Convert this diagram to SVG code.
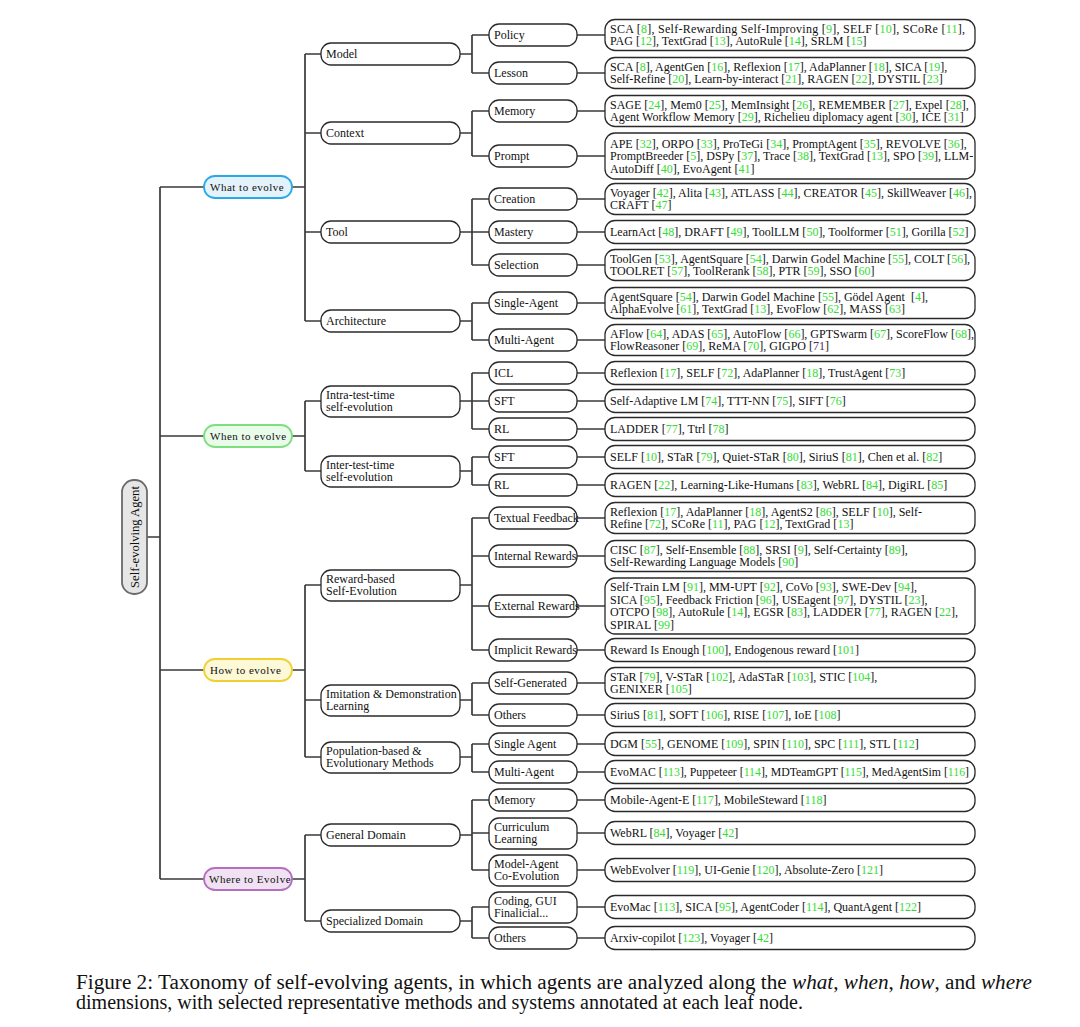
<svg xmlns="http://www.w3.org/2000/svg" width="1080" height="1027" viewBox="0 0 1080 1027">
<style>
.ln{stroke:#3a3a3a;stroke-width:1.7;fill:none}
.b{fill:#fff;stroke:#2a2a2a;stroke-width:1.3}
.t{font-family:"Liberation Serif",serif;font-size:12px;fill:#111}
.t1{font-family:"Liberation Serif",serif;font-size:11px;fill:#111;letter-spacing:0.5px}
.c{fill:#33dd33}
.p{fill:#4b2a6b}
.cap{font-family:"Liberation Serif",serif;font-size:20.5px;fill:#111}
</style>
<rect width="1080" height="1027" fill="#fff"/>
<g id="connectors">
<path class="ln" d="M147 537H160M160 187V879M160 187H204M160 436H204M160 670H204M160 879H204"/>
<path class="ln" d="M292 187H305M292 436H305M292 670H305M292 879H305"/>
<path class="ln" d="M305 54V321M305 54H321M305 133H321M305 232H321M305 321H321"/>
<path class="ln" d="M305 401V471M305 401H321M305 471H321"/>
<path class="ln" d="M305 585V757M305 585H321M305 700H321M305 757H321"/>
<path class="ln" d="M305 835V921M305 835H321M305 921H321"/>
<path class="ln" d="M460 54H472M472 35V73M472 35H489M472 73H489"/>
<path class="ln" d="M460 133H472M472 111V156M472 111H489M472 156H489"/>
<path class="ln" d="M460 232H472M472 199V265M472 199H489M472 232H489M472 265H489"/>
<path class="ln" d="M460 321H472M472 303V340M472 303H489M472 340H489"/>
<path class="ln" d="M460 401H472M472 373V429M472 373H489M472 401H489M472 429H489"/>
<path class="ln" d="M460 471H472M472 457V485M472 457H489M472 485H489"/>
<path class="ln" d="M460 585H472M472 518V650M472 518H489M472 556H489M472 606H489M472 650H489"/>
<path class="ln" d="M460 700H472M472 683V715M472 683H489M472 715H489"/>
<path class="ln" d="M460 757H472M472 744V772M472 744H489M472 772H489"/>
<path class="ln" d="M460 835H472M472 800V870M472 800H489M472 833H489M472 870H489"/>
<path class="ln" d="M460 921H472M472 907V938M472 907H489M472 938H489"/>
<path class="ln" d="M577 35H605M577 73H605M577 111H605M577 156H605M577 199H605M577 232H605M577 265H605M577 303H605M577 340H605"/>
<path class="ln" d="M577 373H605M577 401H605M577 429H605M577 457H605M577 485H605"/>
<path class="ln" d="M577 518H605M577 556H605M577 606H605M577 650H605M577 683H605M577 715H605M577 744H605M577 772H605"/>
<path class="ln" d="M577 800H605M577 833H605M577 870H605M577 907H605M577 938H605"/>
</g>
<g id="root"><rect x="122" y="480" width="25" height="114" rx="12" fill="#e6e6e6" stroke="#6a6a6a" stroke-width="1.8"/><text class="t" style="font-size:12.6px" text-anchor="middle" transform="translate(139 537) rotate(-90)">Self-evolving Agent</text></g>
<g id="what"><rect x="204" y="176" width="88" height="22" rx="11" fill="#e4f3fb" stroke="#2aa9e6" stroke-width="1.8"/><text class="t1" x="210" y="191">What to evolve</text></g>
<g id="when"><rect x="204" y="425" width="88" height="22" rx="11" fill="#e9fbe9" stroke="#7ddf7d" stroke-width="1.8"/><text class="t1" x="210" y="440">When to evolve</text></g>
<g id="how"><rect x="204" y="659" width="88" height="22" rx="11" fill="#fdf8d6" stroke="#efd030" stroke-width="1.8"/><text class="t1" x="210" y="674">How to evolve</text></g>
<g id="where"><rect x="204" y="868" width="88" height="22" rx="11" fill="#f1e2f3" stroke="#b46fbe" stroke-width="1.8"/><text class="t1" x="209" y="883">Where to Evolve</text></g>

<g id="model"><rect class="b" x="321" y="43" width="139" height="22" rx="10"/><text class="t" x="326" y="58">Model</text></g>
<g id="context"><rect class="b" x="321" y="122" width="139" height="22" rx="10"/><text class="t" x="326" y="137">Context</text></g>
<g id="tool"><rect class="b" x="321" y="221" width="139" height="22" rx="10"/><text class="t" x="326" y="236">Tool</text></g>
<g id="architecture"><rect class="b" x="321" y="310" width="139" height="22" rx="10"/><text class="t" x="326" y="325">Architecture</text></g>
<g id="intra"><rect class="b" x="321" y="386" width="139" height="31" rx="10"/><text class="t"><tspan x="326" y="399">Intra-test-time</tspan><tspan x="326" y="411">self-evolution</tspan></text></g>
<g id="inter"><rect class="b" x="321" y="456" width="139" height="31" rx="10"/><text class="t"><tspan x="326" y="469">Inter-test-time</tspan><tspan x="326" y="481">self-evolution</tspan></text></g>
<g id="reward"><rect class="b" x="321" y="570" width="139" height="31" rx="10"/><text class="t"><tspan x="326" y="583">Reward-based</tspan><tspan x="326" y="595">Self-Evolution</tspan></text></g>
<g id="imitation"><rect class="b" x="321" y="685" width="139" height="31" rx="10"/><text class="t"><tspan x="326" y="698">Imitation &amp; Demonstration</tspan><tspan x="326" y="710">Learning</tspan></text></g>
<g id="population"><rect class="b" x="321" y="742" width="139" height="31" rx="10"/><text class="t"><tspan x="326" y="755">Population-based &amp;</tspan><tspan x="326" y="767">Evolutionary Methods</tspan></text></g>
<g id="general"><rect class="b" x="321" y="824" width="139" height="22" rx="10"/><text class="t" x="326" y="839">General Domain</text></g>
<g id="specialized"><rect class="b" x="321" y="910" width="139" height="22" rx="10"/><text class="t" x="326" y="925">Specialized Domain</text></g>

<g id="policy"><rect class="b" x="489" y="24" width="88" height="22" rx="10"/><text class="t" x="494" y="39">Policy</text></g>
<g id="lesson"><rect class="b" x="489" y="62" width="88" height="22" rx="10"/><text class="t" x="494" y="77">Lesson</text></g>
<g id="memory"><rect class="b" x="489" y="100" width="88" height="22" rx="10"/><text class="t" x="494" y="115">Memory</text></g>
<g id="prompt"><rect class="b" x="489" y="145" width="88" height="22" rx="10"/><text class="t" x="494" y="160">Prompt</text></g>
<g id="creation"><rect class="b" x="489" y="188" width="88" height="22" rx="10"/><text class="t" x="494" y="203">Creation</text></g>
<g id="mastery"><rect class="b" x="489" y="221" width="88" height="22" rx="10"/><text class="t" x="494" y="236">Mastery</text></g>
<g id="selection"><rect class="b" x="489" y="254" width="88" height="22" rx="10"/><text class="t" x="494" y="269">Selection</text></g>
<g id="single-agent"><rect class="b" x="489" y="292" width="88" height="22" rx="10"/><text class="t" x="494" y="307">Single-Agent</text></g>
<g id="multi-agent"><rect class="b" x="489" y="329" width="88" height="22" rx="10"/><text class="t" x="494" y="344">Multi-Agent</text></g>
<g id="icl"><rect class="b" x="489" y="362" width="88" height="22" rx="10"/><text class="t" x="494" y="377">ICL</text></g>
<g id="sft1"><rect class="b" x="489" y="390" width="88" height="22" rx="10"/><text class="t" x="494" y="405">SFT</text></g>
<g id="rl1"><rect class="b" x="489" y="418" width="88" height="22" rx="10"/><text class="t" x="494" y="433">RL</text></g>
<g id="sft2"><rect class="b" x="489" y="446" width="88" height="22" rx="10"/><text class="t" x="494" y="461">SFT</text></g>
<g id="rl2"><rect class="b" x="489" y="474" width="88" height="22" rx="10"/><text class="t" x="494" y="489">RL</text></g>
<g id="textual"><rect class="b" x="489" y="507" width="88" height="22" rx="10"/><text class="t" x="494" y="522">Textual Feedback</text></g>
<g id="internal"><rect class="b" x="489" y="545" width="88" height="22" rx="10"/><text class="t" x="494" y="560">Internal Rewards</text></g>
<g id="external"><rect class="b" x="489" y="595" width="88" height="22" rx="10"/><text class="t" x="494" y="610">External Rewards</text></g>
<g id="implicit"><rect class="b" x="489" y="639" width="88" height="22" rx="10"/><text class="t" x="494" y="654">Implicit Rewards</text></g>
<g id="self-generated"><rect class="b" x="489" y="672" width="88" height="22" rx="10"/><text class="t" x="494" y="687">Self-Generated</text></g>
<g id="others1"><rect class="b" x="489" y="704" width="88" height="22" rx="10"/><text class="t" x="494" y="719">Others</text></g>
<g id="single-agent2"><rect class="b" x="489" y="733" width="88" height="22" rx="10"/><text class="t" x="494" y="748">Single Agent</text></g>
<g id="multi-agent2"><rect class="b" x="489" y="761" width="88" height="22" rx="10"/><text class="t" x="494" y="776">Multi-Agent</text></g>
<g id="memory2"><rect class="b" x="489" y="789" width="88" height="22" rx="10"/><text class="t" x="494" y="804">Memory</text></g>
<g id="curriculum"><rect class="b" x="489" y="818" width="88" height="31" rx="10"/><text class="t"><tspan x="494" y="831">Curriculum</tspan><tspan x="494" y="843">Learning</tspan></text></g>
<g id="model-agent"><rect class="b" x="489" y="855" width="88" height="31" rx="10"/><text class="t"><tspan x="494" y="868">Model-Agent</tspan><tspan x="494" y="880">Co-Evolution</tspan></text></g>
<g id="coding"><rect class="b" x="489" y="892" width="88" height="31" rx="10"/><text class="t"><tspan x="494" y="905">Coding, GUI</tspan><tspan x="494" y="917">Finalicial...</tspan></text></g>
<g id="others2"><rect class="b" x="489" y="927" width="88" height="22" rx="10"/><text class="t" x="494" y="942">Others</text></g>

<g id="leaf-policy"><rect class="b" x="605" y="19.5" width="370" height="31" rx="10"/><text class="t"><tspan x="610" y="32.8" textLength="355" lengthAdjust="spacing">SCA [<tspan class="c">8</tspan>], Self-Rewarding Self-Improving [<tspan class="c">9</tspan>], SELF [<tspan class="c">10</tspan>], SCoRe [<tspan class="c">11</tspan>],</tspan><tspan x="610" y="45.3">PAG [<tspan class="c">12</tspan>], TextGrad [<tspan class="c">13</tspan>], AutoRule [<tspan class="c">14</tspan>], SRLM [<tspan class="c">15</tspan>]</tspan></text></g>
<g id="leaf-lesson"><rect class="b" x="605" y="57.5" width="370" height="31" rx="10"/><text class="t"><tspan x="610" y="70.8">SCA [<tspan class="c">8</tspan>], AgentGen [<tspan class="c">16</tspan>], Reflexion [<tspan class="c">17</tspan>], AdaPlanner [<tspan class="c">18</tspan>], SICA [<tspan class="c">19</tspan>],</tspan><tspan x="610" y="83.3">Self-Refine [<tspan class="c">20</tspan>], Learn-by-interact [<tspan class="c">21</tspan>], RAGEN [<tspan class="c">22</tspan>], DYSTIL [<tspan class="c">23</tspan>]</tspan></text></g>
<g id="leaf-memory"><rect class="b" x="605" y="95.5" width="370" height="31" rx="10"/><text class="t"><tspan x="610" y="108.8">SAGE [<tspan class="c">24</tspan>], Mem0 [<tspan class="c">25</tspan>], MemInsight [<tspan class="c">26</tspan>], REMEMBER [<tspan class="c">27</tspan>], Expel [<tspan class="c">28</tspan>],</tspan><tspan x="610" y="121.3">Agent Workflow Memory [<tspan class="c">29</tspan>], Richelieu diplomacy agent [<tspan class="c">30</tspan>], ICE [<tspan class="c">31</tspan>]</tspan></text></g>
<g id="leaf-prompt"><rect class="b" x="605" y="133" width="370" height="46" rx="10"/><text class="t"><tspan x="610" y="147.5">APE [<tspan class="c">32</tspan>], ORPO [<tspan class="c">33</tspan>], ProTeGi [<tspan class="c">34</tspan>], PromptAgent [<tspan class="c">35</tspan>], REVOLVE [<tspan class="c">36</tspan>],</tspan><tspan x="610" y="160">PromptBreeder [<tspan class="c">5</tspan>], DSPy [<tspan class="c">37</tspan>], Trace [<tspan class="c">38</tspan>], TextGrad [<tspan class="c">13</tspan>], SPO [<tspan class="c">39</tspan>], LLM-</tspan><tspan x="610" y="172.5">AutoDiff [<tspan class="c">40</tspan>], EvoAgent [<tspan class="c">41</tspan>]</tspan></text></g>
<g id="leaf-creation"><rect class="b" x="605" y="183.5" width="370" height="31" rx="10"/><text class="t"><tspan x="610" y="196.8">Voyager [<tspan class="c">42</tspan>], Alita [<tspan class="c">43</tspan>], ATLASS [<tspan class="c">44</tspan>], CREATOR [<tspan class="c">45</tspan>], SkillWeaver [<tspan class="c">46</tspan>],</tspan><tspan x="610" y="209.3">CRAFT [<tspan class="c">47</tspan>]</tspan></text></g>
<g id="leaf-mastery"><rect class="b" x="605" y="220.5" width="370" height="23" rx="10"/><text class="t" x="610" y="236">LearnAct [<tspan class="c">48</tspan>], DRAFT [<tspan class="c">49</tspan>], ToolLLM [<tspan class="c">50</tspan>], Toolformer [<tspan class="c">51</tspan>], Gorilla [<tspan class="c">52</tspan>]</text></g>
<g id="leaf-selection"><rect class="b" x="605" y="249.5" width="370" height="31" rx="10"/><text class="t"><tspan x="610" y="262.8">ToolGen [<tspan class="c">53</tspan>], AgentSquare [<tspan class="c">54</tspan>], Darwin Godel Machine [<tspan class="c">55</tspan>], COLT [<tspan class="c">56</tspan>],</tspan><tspan x="610" y="275.3">TOOLRET [<tspan class="c">57</tspan>], ToolRerank [<tspan class="c">58</tspan>], PTR [<tspan class="c">59</tspan>], SSO [<tspan class="c">60</tspan>]</tspan></text></g>
<g id="leaf-single-agent"><rect class="b" x="605" y="287.5" width="370" height="31" rx="10"/><text class="t"><tspan x="610" y="300.8">AgentSquare [<tspan class="c">54</tspan>], Darwin Godel Machine [<tspan class="c">55</tspan>], Gödel Agent&#160; [<tspan class="c">4</tspan>],</tspan><tspan x="610" y="313.3">AlphaEvolve [<tspan class="c">61</tspan>], TextGrad [<tspan class="c">13</tspan>], EvoFlow [<tspan class="c">62</tspan>], MASS [<tspan class="c">63</tspan>]</tspan></text></g>
<g id="leaf-multi-agent"><rect class="b" x="605" y="324.5" width="370" height="31" rx="10"/><text class="t"><tspan x="610" y="337.8">AFlow [<tspan class="c">64</tspan>], ADAS [<tspan class="c">65</tspan>], AutoFlow [<tspan class="c">66</tspan>], GPTSwarm [<tspan class="c">67</tspan>], ScoreFlow [<tspan class="c">68</tspan>],</tspan><tspan x="610" y="350.3">FlowReasoner [<tspan class="c">69</tspan>], ReMA [<tspan class="c">70</tspan>], GIGPO [<tspan class="p">71</tspan>]</tspan></text></g>
<g id="leaf-icl"><rect class="b" x="605" y="361.5" width="370" height="23" rx="10"/><text class="t" x="610" y="377">Reflexion [<tspan class="c">17</tspan>], SELF [<tspan class="c">72</tspan>], AdaPlanner [<tspan class="c">18</tspan>], TrustAgent [<tspan class="c">73</tspan>]</text></g>
<g id="leaf-sft1"><rect class="b" x="605" y="389.5" width="370" height="23" rx="10"/><text class="t" x="610" y="405">Self-Adaptive LM [<tspan class="c">74</tspan>], TTT-NN [<tspan class="c">75</tspan>], SIFT [<tspan class="c">76</tspan>]</text></g>
<g id="leaf-rl1"><rect class="b" x="605" y="417.5" width="370" height="23" rx="10"/><text class="t" x="610" y="433">LADDER [<tspan class="c">77</tspan>], Ttrl [<tspan class="c">78</tspan>]</text></g>
<g id="leaf-sft2"><rect class="b" x="605" y="445.5" width="370" height="23" rx="10"/><text class="t" x="610" y="461">SELF [<tspan class="c">10</tspan>], STaR [<tspan class="c">79</tspan>], Quiet-STaR [<tspan class="c">80</tspan>], SiriuS [<tspan class="c">81</tspan>], Chen et al. [<tspan class="c">82</tspan>]</text></g>
<g id="leaf-rl2"><rect class="b" x="605" y="473.5" width="370" height="23" rx="10"/><text class="t" x="610" y="489">RAGEN [<tspan class="c">22</tspan>], Learning-Like-Humans [<tspan class="c">83</tspan>], WebRL [<tspan class="c">84</tspan>], DigiRL [<tspan class="c">85</tspan>]</text></g>
<g id="leaf-textual"><rect class="b" x="605" y="502.5" width="370" height="31" rx="10"/><text class="t"><tspan x="610" y="515.8">Reflexion [<tspan class="c">17</tspan>], AdaPlanner [<tspan class="c">18</tspan>], AgentS2 [<tspan class="c">86</tspan>], SELF [<tspan class="c">10</tspan>], Self-</tspan><tspan x="610" y="528.3">Refine [<tspan class="c">72</tspan>], SCoRe [<tspan class="c">11</tspan>], PAG [<tspan class="c">12</tspan>], TextGrad [<tspan class="c">13</tspan>]</tspan></text></g>
<g id="leaf-internal"><rect class="b" x="605" y="540.5" width="370" height="31" rx="10"/><text class="t"><tspan x="610" y="553.8">CISC [<tspan class="c">87</tspan>], Self-Ensemble [<tspan class="c">88</tspan>], SRSI [<tspan class="c">9</tspan>], Self-Certainty [<tspan class="c">89</tspan>],</tspan><tspan x="610" y="566.3">Self-Rewarding Language Models [<tspan class="c">90</tspan>]</tspan></text></g>
<g id="leaf-external"><rect class="b" x="605" y="578" width="370" height="56" rx="10"/><text class="t"><tspan x="610" y="591.3">Self-Train LM [<tspan class="c">91</tspan>], MM-UPT [<tspan class="c">92</tspan>], CoVo [<tspan class="c">93</tspan>], SWE-Dev [<tspan class="c">94</tspan>],</tspan><tspan x="610" y="603.8">SICA [<tspan class="c">95</tspan>], Feedback Friction [<tspan class="c">96</tspan>], USEagent [<tspan class="c">97</tspan>], DYSTIL [<tspan class="c">23</tspan>],</tspan><tspan x="610" y="616.3">OTCPO [<tspan class="c">98</tspan>], AutoRule [<tspan class="c">14</tspan>], EGSR [<tspan class="c">83</tspan>], LADDER [<tspan class="c">77</tspan>], RAGEN [<tspan class="c">22</tspan>],</tspan><tspan x="610" y="628.8">SPIRAL [<tspan class="c">99</tspan>]</tspan></text></g>
<g id="leaf-implicit"><rect class="b" x="605" y="638.5" width="370" height="23" rx="10"/><text class="t" x="610" y="654">Reward Is Enough [<tspan class="c">100</tspan>], Endogenous reward [<tspan class="c">101</tspan>]</text></g>
<g id="leaf-self-generated"><rect class="b" x="605" y="667.5" width="370" height="31" rx="10"/><text class="t"><tspan x="610" y="680.8">STaR [<tspan class="c">79</tspan>], V-STaR [<tspan class="c">102</tspan>], AdaSTaR [<tspan class="c">103</tspan>], STIC [<tspan class="c">104</tspan>],</tspan><tspan x="610" y="693.3">GENIXER [<tspan class="c">105</tspan>]</tspan></text></g>
<g id="leaf-others1"><rect class="b" x="605" y="703.5" width="370" height="23" rx="10"/><text class="t" x="610" y="719">SiriuS [<tspan class="c">81</tspan>], SOFT [<tspan class="c">106</tspan>], RISE [<tspan class="c">107</tspan>], IoE [<tspan class="c">108</tspan>]</text></g>
<g id="leaf-single-agent2"><rect class="b" x="605" y="732.5" width="370" height="23" rx="10"/><text class="t" x="610" y="748">DGM [<tspan class="c">55</tspan>], GENOME [<tspan class="c">109</tspan>], SPIN [<tspan class="c">110</tspan>], SPC [<tspan class="c">111</tspan>], STL [<tspan class="c">112</tspan>]</text></g>
<g id="leaf-multi-agent2"><rect class="b" x="605" y="760.5" width="370" height="23" rx="10"/><text class="t" x="610" y="776" textLength="359" lengthAdjust="spacingAndGlyphs">EvoMAC [<tspan class="c">113</tspan>], Puppeteer [<tspan class="c">114</tspan>], MDTeamGPT [<tspan class="c">115</tspan>], MedAgentSim [<tspan class="c">116</tspan>]</text></g>
<g id="leaf-memory2"><rect class="b" x="605" y="788.5" width="370" height="23" rx="10"/><text class="t" x="610" y="804">Mobile-Agent-E [<tspan class="c">117</tspan>], MobileSteward [<tspan class="c">118</tspan>]</text></g>
<g id="leaf-curriculum"><rect class="b" x="605" y="821.5" width="370" height="23" rx="10"/><text class="t" x="610" y="837">WebRL [<tspan class="c">84</tspan>], Voyager [<tspan class="c">42</tspan>]</text></g>
<g id="leaf-model-agent"><rect class="b" x="605" y="858.5" width="370" height="23" rx="10"/><text class="t" x="610" y="874">WebEvolver [<tspan class="c">119</tspan>], UI-Genie [<tspan class="c">120</tspan>], Absolute-Zero [<tspan class="c">121</tspan>]</text></g>
<g id="leaf-coding"><rect class="b" x="605" y="895.5" width="370" height="23" rx="10"/><text class="t" x="610" y="911">EvoMac [<tspan class="c">113</tspan>], SICA [<tspan class="c">95</tspan>], AgentCoder [<tspan class="c">114</tspan>], QuantAgent [<tspan class="c">122</tspan>]</text></g>
<g id="leaf-others2"><rect class="b" x="605" y="926.5" width="370" height="23" rx="10"/><text class="t" x="610" y="942">Arxiv-copilot [<tspan class="c">123</tspan>], Voyager [<tspan class="c">42</tspan>]</text></g>

<g id="caption">
<text class="cap" x="76" y="989" textLength="956" lengthAdjust="spacingAndGlyphs">Figure 2: Taxonomy of self-evolving agents, in which agents are analyzed along the <tspan font-style="italic">what</tspan>, <tspan font-style="italic">when</tspan>, <tspan font-style="italic">how</tspan>, and <tspan font-style="italic">where</tspan></text>
<text class="cap" x="76" y="1009" textLength="727" lengthAdjust="spacingAndGlyphs">dimensions, with selected representative methods and systems annotated at each leaf node.</text>
</g>
</svg>
